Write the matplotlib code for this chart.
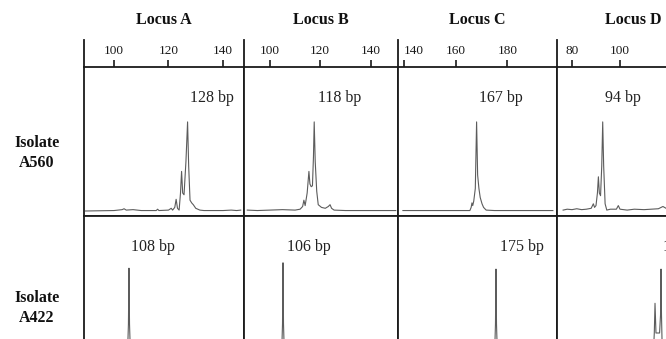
import matplotlib
matplotlib.use("Agg")
import matplotlib.pyplot as plt
from matplotlib.lines import Line2D

plt.rcParams['font.family'] = ['Liberation Serif', 'DejaVu Serif']

# ---------------- data ----------------
loci = ["Locus A", "Locus B", "Locus C", "Locus D"]
isolates = ["Isolate\nA560", "Isolate\nA422"]
tick_values = [[100, 120, 140], [100, 120, 140], [140, 160, 180], [80, 100]]
size_labels_A560 = ["128 bp", "118 bp", "167 bp", "94 bp"]
size_labels_A422 = ["108 bp", "106 bp", "175 bp", "117 bp"]

# Isolate A560 traces (fragment size in bp, relative signal)
a560_A_bp = [89.5, 100, 103.0, 103.7, 104.5, 107, 110, 115.5, 116, 116.5, 120, 121.0, 121.5,
             122.3, 122.8, 123.3, 123.9, 124.4, 124.8, 125.2, 125.7, 126.4, 127.0, 127.4,
             127.9, 128.5, 129.1, 130, 131.5, 133, 140, 143, 145, 146.5]
a560_A_sig = [0, 0.5, 1.5, 2.5, 1, 1.5, 0.5, 0.5, 2, 0.5, 1, 3, 1,
              4, 13, 3, 1, 20, 44, 20, 18, 55, 99, 50,
              12, 9, 7, 3, 1, 0.5, 0.5, 1, 0.5, 1]
a560_B_bp = [91, 95, 100, 105, 110, 112.0, 113.0, 113.5, 114.0, 114.8, 115.5, 115.9, 116.4,
             116.9, 117.3, 117.6, 118.0, 118.6, 119.2, 120.5, 122, 123.2, 123.9, 124.5,
             125.5, 130, 140, 150]
a560_B_sig = [1, 0.5, 1, 1.5, 1, 2, 5, 12, 6, 20, 44, 30, 27,
              28, 60, 99, 55, 22, 7, 4, 3, 5, 7, 3,
              1, 0.5, 0.5, 0.5]
a560_C_bp = [139.6, 150, 160, 165.5, 166.0, 166.3, 166.6, 167.0, 167.6, 168.1, 168.5, 169.0,
             169.5, 170.2, 170.8, 171.8, 175, 190, 197.6]
a560_C_sig = [0.5, 0.5, 0.5, 0.5, 4, 9, 6, 11, 25, 99, 40, 25,
              15, 8, 4, 1, 0.5, 0.5, 0.5]
a560_D_bp = [76.3, 78, 80, 82, 84, 86, 88, 88.9, 89.4, 90.0, 90.6, 91.0, 91.4, 91.9, 92.4,
             92.8, 93.2, 93.8, 94.5, 96, 98.5, 99.3, 100, 103, 106, 110, 113, 116, 117.9, 119.2]
a560_D_sig = [1, 2, 1.5, 2.5, 1.5, 2, 3, 8, 4, 6, 20, 38, 20, 17, 50,
              99, 50, 8, 1, 2, 2, 6, 2, 1, 2, 1.5, 2, 2.5, 5, 3]

# Isolate A422 traces
a422_A_bp = [89.5, 104.9, 105.3, 105.5, 105.7, 106.1, 147]
a422_A_sig = [0, 0, 40, 102, 40, 0, 0]
a422_B_bp = [90.5, 104.6, 105.0, 105.2, 105.4, 105.8, 150]
a422_B_sig = [0, 0, 40, 108, 40, 0, 0]
a422_C_bp = [138.5, 175.0, 175.4, 175.6, 175.8, 176.2, 198]
a422_C_sig = [0, 0, 40, 101, 40, 0, 0]
a422_D_bp = [75, 113.8, 114.3, 114.6, 115.0, 116.5, 116.9, 117.1, 117.3, 117.7, 130]
a422_D_sig = [0, 0, 30, 63, 30, 30, 50, 101, 50, 0, 0]

traces_row1 = [(a560_A_bp, a560_A_sig), (a560_B_bp, a560_B_sig),
               (a560_C_bp, a560_C_sig), (a560_D_bp, a560_D_sig)]
traces_row2 = [(a422_A_bp, a422_A_sig), (a422_B_bp, a422_B_sig),
               (a422_C_bp, a422_C_sig), (a422_D_bp, a422_D_sig)]

# ---------------- layout ----------------
W, H = 666, 339
fig = plt.figure(figsize=(W / 100, H / 100), dpi=100)

lefts = [84, 244, 398, 557]
rights = [244, 398, 557, 709]
xlims = [(89.0, 147.7), (89.7, 150.9), (137.7, 199.2), (73.75, 137.1)]
row_tops = [67, 216]
row_bottoms = [216, 365]
ylim = (-5.56, 160)
label_fx_row1 = [0.80, 0.623, 0.648, 0.434]
label_fx_row2 = [0.431, 0.422, 0.78, 0.84]
label_y_off = 31  # px below the panel top

line_col = '#1a1a1a'
trace_col = '#5c5c5c'
lw = 1.3


def fx(px):
    return px / W


def fy(py):
    return 1 - py / H


for r, (traces, labels, lab_fx) in enumerate(
        [(traces_row1, size_labels_A560, label_fx_row1),
         (traces_row2, size_labels_A422, label_fx_row2)]):
    top, bot = row_tops[r], row_bottoms[r]
    for c in range(4):
        l, rr = lefts[c], rights[c]
        ax = fig.add_axes([fx(l), fy(bot), fx(rr - l), (bot - top) / H])
        ax.set_xlim(*xlims[c])
        ax.set_ylim(*ylim)
        x, y = traces[c]
        ax.plot(x, y, color=trace_col, lw=0.8)
        for s in ax.spines.values():
            s.set_linewidth(lw)
            s.set_color(line_col)
        ax.set_yticks([])
        if r == 0:
            ax.xaxis.tick_top()
            ax.set_xticks(tick_values[c])
            ax.tick_params(axis='x', direction='out', length=5, width=1.2,
                           pad=2, labelsize=9.5, colors=line_col)
            if c == 2:
                # first label sits just right of the panel border
                ax.get_xticklabels()[0].set_horizontalalignment('left')
        else:
            ax.set_xticks([])
            ax.spines['bottom'].set_visible(False)
        ax.text(lab_fx[c], 1 - label_y_off / (bot - top), labels[c],
                transform=ax.transAxes, ha='center', va='center',
                fontsize=11.5, color='#222222')

# vertical border extensions above the axis line
for px in lefts:
    fig.add_artist(Line2D([fx(px), fx(px)], [fy(40), fy(67)],
                          color=line_col, lw=lw))

# column titles
for c, name in enumerate(loci):
    fig.text(fx((lefts[c] + rights[c]) / 2), fy(20), name, ha='center', va='center',
             fontsize=11.5, fontweight='bold', color='#111111')

# row labels
for r, name in enumerate(isolates):
    cy = [153, 308][r]
    fig.text(fx(37), fy(cy), name, ha='center', va='center', fontsize=11.5,
             fontweight='bold', linespacing=1.35, color='#111111')

fig.savefig("out.png", dpi=100)
